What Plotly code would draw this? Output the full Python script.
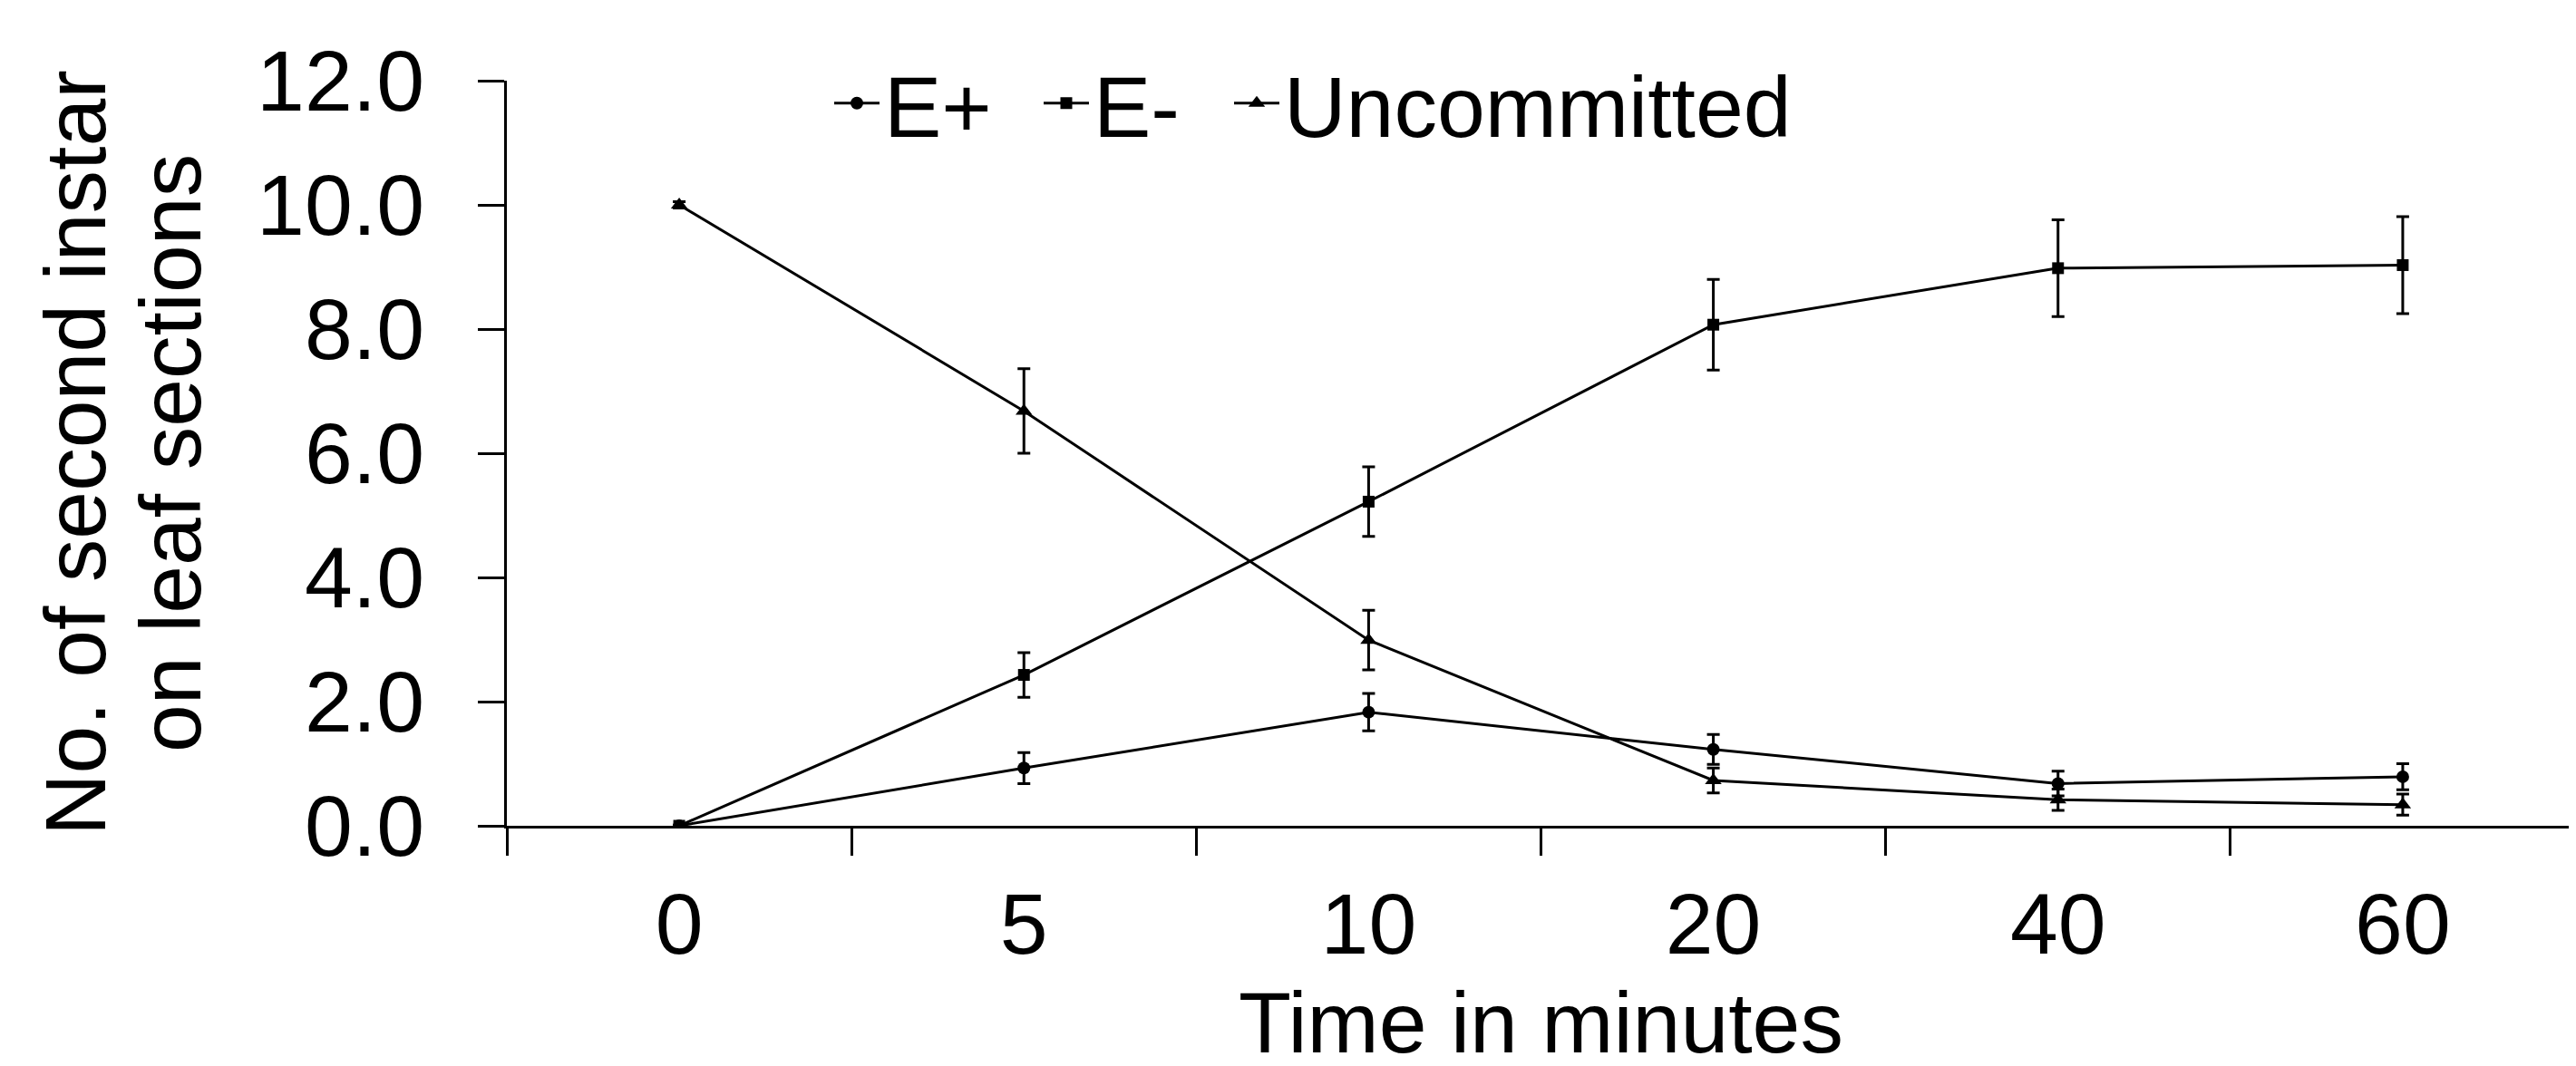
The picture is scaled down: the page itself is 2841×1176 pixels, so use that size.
import plotly.graph_objects as go

# ---- data ----
time_labels = ["0", "5", "10", "20", "40", "60"]
e_plus = [0.0, 0.93, 1.83, 1.23, 0.68, 0.79]
e_plus_err = [0.0, 0.25, 0.30, 0.24, 0.20, 0.21]
e_minus = [0.0, 2.43, 5.22, 8.07, 8.98, 9.03]
e_minus_err = [0.0, 0.36, 0.56, 0.73, 0.78, 0.78]
uncommitted = [10.0, 6.68, 2.99, 0.73, 0.42, 0.34]
uncommitted_err = [0.05, 0.68, 0.48, 0.20, 0.17, 0.17]
y_ticks = [0, 2, 4, 6, 8, 10, 12]

FONT = "Liberation Sans, Arial, sans-serif"
FS = 95

W, H = 2841, 1176
ML, MR, MT, MB = 551, 9, 81, 273
plot_w = W - ML - MR
plot_h = H - MT - MB

# (name, values, errors, marker symbol, marker size, legend id, legend left pixel)
series = [
    ("E+", e_plus, e_plus_err, "circle", 14, "legend", 907),
    ("E-", e_minus, e_minus_err, "square", 13, "legend2", 1138),
    ("Uncommitted", uncommitted, uncommitted_err, "triangle-up", 16, "legend3", 1348),
]

fig = go.Figure()
legend_layout = {}
for name, vals, errs, sym, msize, leg, lx in series:
    fig.add_trace(go.Scatter(
        x=time_labels, y=vals, name=name, mode="lines+markers",
        line=dict(color="black", width=3),
        marker=dict(symbol=sym, size=msize, color="black"),
        error_y=dict(type="data", array=errs, visible=True,
                     color="black", thickness=3, width=7),
        legend=leg,
    ))
    legend_layout[leg] = dict(
        orientation="h", xref="paper", yref="paper",
        x=(lx - ML) / plot_w, y=(903 - 106) / plot_h,
        xanchor="left", yanchor="middle",
        font=dict(size=FS), bgcolor="rgba(0,0,0,0)", itemwidth=50,
    )

fig.update_layout(
    width=W, height=H,
    margin=dict(l=ML, r=MR, t=MT, b=MB, autoexpand=False),
    plot_bgcolor="white", paper_bgcolor="white",
    font=dict(family=FONT, size=FS, color="black"),
    showlegend=True,
    **legend_layout,
)
fig.update_xaxes(
    type="category", range=[-0.5, 5.5], tickson="boundaries",
    ticks="outside", ticklen=30, tickwidth=2.5, tickcolor="black",
    showline=True, linecolor="black", linewidth=3, showgrid=False,
    zeroline=False, tickfont=dict(size=FS), automargin=False,
    ticklabelstandoff=24,
)
fig.update_yaxes(
    range=[0, 12], tickvals=y_ticks, tickformat=".1f",
    ticks="outside", ticklen=29, tickwidth=2.5, tickcolor="black",
    showline=True, linecolor="black", linewidth=3, showgrid=False,
    zeroline=False, tickfont=dict(size=FS), ticklabelstandoff=40,
    automargin=False,
)

# x axis title, kept fully inside the canvas
fig.add_annotation(text="Time in minutes", xref="paper", yref="paper",
                   x=0.5, y=(903 - 1175) / plot_h,
                   xanchor="center", yanchor="bottom",
                   showarrow=False, font=dict(size=FS))

# two-line y axis title, placed in pixels relative to the plot area
for txt, xpix in [("No. of second instar", 75), ("on leaf sections", 180)]:
    fig.add_annotation(text=txt, xref="paper", yref="paper",
                       x=(xpix - ML) / plot_w, y=0.5,
                       xanchor="center", yanchor="middle",
                       textangle=-90, showarrow=False, font=dict(size=FS))

fig.write_html("out.html")
